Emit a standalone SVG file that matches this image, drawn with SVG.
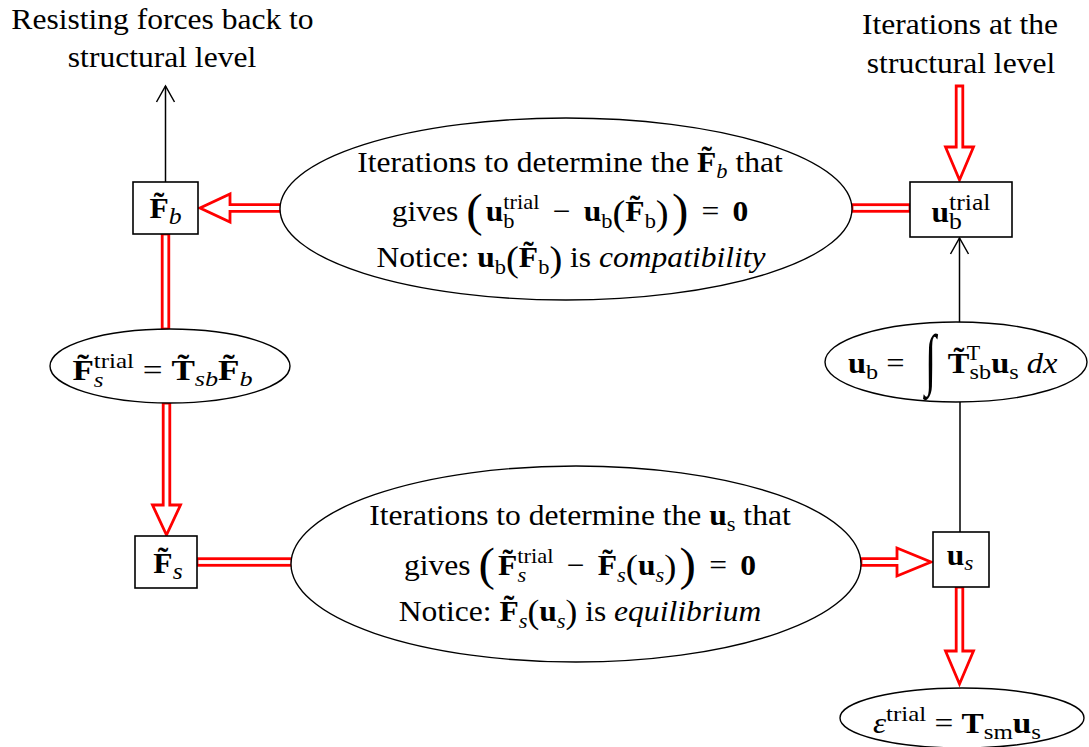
<svg xmlns="http://www.w3.org/2000/svg" width="1089" height="747" viewBox="0 0 1089 747">
<style>
.t{font-family:'Liberation Serif','Times New Roman',serif;font-size:29.5px;fill:#000}
.b{font-weight:bold}
.i{font-style:italic}
.s{font-size:21px}
.box{fill:#fff;stroke:#000;stroke-width:1.6}
.ell{fill:#fff;stroke:#000;stroke-width:1.4}
.hol{fill:#fff;stroke:#f00;stroke-width:2.8;stroke-linejoin:miter}
.ln{fill:none;stroke:#000;stroke-width:1.5}
</style>
<defs>
<marker id="oa" viewBox="-18 -11 20 22" refX="0" refY="0" markerWidth="20" markerHeight="22" markerUnits="userSpaceOnUse" orient="auto"><path d="M-16,-9 L0,0 L-16,9" fill="none" stroke="#000" stroke-width="1.5"/></marker>
</defs>
<rect width="1089" height="747" fill="#fff"/>
<g id="labels">
<text class="t" text-anchor="middle" transform="translate(162.5,29) scale(1.07,1)">Resisting forces back to</text>
<text class="t" text-anchor="middle" transform="translate(162,67) scale(1.07,1)">structural level</text>
<text class="t" text-anchor="middle" transform="translate(960,34) scale(1.07,1)">Iterations at the</text>
<text class="t" text-anchor="middle" transform="translate(961,73) scale(1.07,1)">structural level</text>
</g>
<g id="connectors">
<line class="ln" x1="165.5" y1="182" x2="165.5" y2="86" marker-end="url(#oa)"/>
<line class="ln" x1="959.5" y1="323" x2="959.5" y2="238" marker-end="url(#oa)"/>
<line class="ln" x1="960" y1="532" x2="960" y2="402"/>
<path class="hol" d="M281,204.7 H230 V194 L200,208 L230,222 V211.3 H281 Z"/>
<rect class="hol" x="162.2" y="234" width="6.6" height="95"/>
<path class="hol" d="M163.2,403 V505 H152.5 L166.5,535 L180.5,505 H169.8 V403 Z"/>
<rect class="hol" x="197" y="558.7" width="95" height="6.6"/>
<path class="hol" d="M861,558.7 H897 V548 L931,562 L897,576 V565.3 H861 Z"/>
<path class="hol" d="M956.2,587 V651 H945.5 L959.5,684 L973.5,651 H962.8 V587 Z"/>
<rect class="hol" x="852" y="204.7" width="58" height="6.6"/>
<path class="hol" d="M956.2,86 V147 H945.5 L959.5,180 L973.5,147 H962.8 V86 Z"/>
</g>
<g id="node-top-ellipse">
<ellipse class="ell" cx="566" cy="209" rx="286" ry="91"/>
<text class="t" text-anchor="middle" transform="translate(570,172) scale(1.07,1)">Iterations to determine the <tspan class="b">F̃</tspan><tspan class="s i" dy="6">b</tspan><tspan dy="-6"> that</tspan></text>
<text class="t" text-anchor="middle" transform="translate(570,221) scale(1.07,1)">gives <tspan font-size="46" dy="5">(</tspan><tspan class="b" dx="3" dy="-5">u</tspan><tspan class="s" dy="7">b</tspan><tspan class="s" dx="-10.5" dy="-19">trial</tspan><tspan dx="5" dy="12"> − </tspan><tspan class="b" dx="5">u</tspan><tspan class="s" dy="7">b</tspan><tspan font-size="36" dy="-3">(</tspan><tspan class="b" dy="-4">F̃</tspan><tspan class="s" dy="7">b</tspan><tspan font-size="36" dy="-3">)</tspan><tspan font-size="46" dx="3" dy="1">)</tspan><tspan dx="5" dy="-5"> = </tspan><tspan class="b" dx="5">0</tspan></text>
<text class="t" text-anchor="middle" transform="translate(571,267) scale(1.07,1)">Notice: <tspan class="b">u</tspan><tspan class="s" dy="7">b</tspan><tspan font-size="36" dy="-3">(</tspan><tspan class="b" dy="-4">F̃</tspan><tspan class="s" dy="7">b</tspan><tspan font-size="36" dy="-3">)</tspan><tspan dy="-4"> is </tspan><tspan class="i">compatibility</tspan></text>
</g>
<g id="node-bottom-ellipse">
<ellipse class="ell" cx="576" cy="564" rx="285" ry="98"/>
<text class="t" text-anchor="middle" transform="translate(580,525) scale(1.07,1)">Iterations to determine the <tspan class="b">u</tspan><tspan class="s" dy="6">s</tspan><tspan dy="-6"> that</tspan></text>
<text class="t" text-anchor="middle" transform="translate(580,575) scale(1.07,1)">gives <tspan font-size="46" dy="5">(</tspan><tspan class="b" dx="3" dy="-5">F̃</tspan><tspan class="s i" dy="7">s</tspan><tspan class="s" dx="-8.2" dy="-19">trial</tspan><tspan dx="5" dy="12"> − </tspan><tspan class="b" dx="5">F̃</tspan><tspan class="s i" dy="7">s</tspan><tspan font-size="34" dy="-4">(</tspan><tspan class="b" dy="-3">u</tspan><tspan class="s i" dy="7">s</tspan><tspan font-size="34" dy="-4">)</tspan><tspan font-size="46" dx="3" dy="2">)</tspan><tspan dx="5" dy="-5"> = </tspan><tspan class="b" dx="5">0</tspan></text>
<text class="t" text-anchor="middle" transform="translate(580,621) scale(1.07,1)">Notice: <tspan class="b">F̃</tspan><tspan class="s i" dy="7">s</tspan><tspan font-size="33" dy="-5">(</tspan><tspan class="b" dy="-2">u</tspan><tspan class="s i" dy="7">s</tspan><tspan font-size="33" dy="-5">)</tspan><tspan dy="-2"> is </tspan><tspan class="i">equilibrium</tspan></text>
</g>
<g id="node-Fb">
<rect class="box" x="133" y="182" width="65" height="52"/>
<text class="t" text-anchor="middle" transform="translate(165.5,218) scale(1.07,1)"><tspan class="b">F̃</tspan><tspan class="i" font-size="24" dy="6">b</tspan></text>
</g>
<g id="node-Fs-trial">
<ellipse class="ell" cx="170" cy="366" rx="120" ry="37"/>
<text class="t" text-anchor="middle" transform="translate(162.5,380) scale(1.19,1)"><tspan class="b">F̃</tspan><tspan class="s i" dy="7">s</tspan><tspan class="s" dx="-8.2" dy="-19">trial</tspan><tspan dy="12"> = </tspan><tspan class="b">T̃</tspan><tspan class="i" font-size="22" dy="6">sb</tspan><tspan class="b" dy="-6">F̃</tspan><tspan class="i" font-size="22" dy="6">b</tspan></text>
</g>
<g id="node-Fs">
<rect class="box" x="135" y="536" width="62" height="52"/>
<text class="t" text-anchor="middle" transform="translate(168,573) scale(1.07,1)"><tspan class="b">F̃</tspan><tspan class="i" font-size="24" dy="6">s</tspan></text>
</g>
<g id="node-ub-trial">
<rect class="box" x="910" y="182" width="102" height="55"/>
<text class="t" text-anchor="middle" transform="translate(961,222) scale(1.07,1)"><tspan class="b">u</tspan><tspan font-size="24" dy="7">b</tspan><tspan font-size="24" dx="-12" dy="-19">trial</tspan></text>
</g>
<g id="node-ub-integral">
<ellipse class="ell" cx="956" cy="362" rx="131" ry="40"/>
<text class="t" transform="translate(848,373) scale(1.1,1)"><tspan class="b">u</tspan><tspan font-size="22" dy="6">b</tspan><tspan dy="-6"> = </tspan><tspan class="b" dx="32">T̃</tspan><tspan font-size="22" dy="6">sb</tspan><tspan font-size="20" dx="-22" dy="-19">T</tspan><tspan class="b" dx="10" dy="13">u</tspan><tspan font-size="22" dy="6">s</tspan><tspan class="i" dy="-6"> dx</tspan></text>
<text class="t" font-size="40" transform="translate(925,382) scale(1,1.7)" style="font-size:40px">∫</text>
</g>
<g id="node-us">
<rect class="box" x="933" y="532" width="56" height="55"/>
<text class="t" text-anchor="middle" transform="translate(960,565) scale(1.07,1)"><tspan class="b">u</tspan><tspan class="i" font-size="22" dy="5">s</tspan></text>
</g>
<g id="node-eps">
<ellipse class="ell" cx="962" cy="718" rx="122" ry="30"/>
<text class="t" text-anchor="middle" transform="translate(957,733) scale(1.13,1)"><tspan class="i">ε</tspan><tspan font-size="22" dy="-12">trial</tspan><tspan dy="12"> = </tspan><tspan class="b">T</tspan><tspan font-size="22" dy="6">sm</tspan><tspan class="b" dy="-6">u</tspan><tspan font-size="22" dy="6">s</tspan></text>
</g>
</svg>
